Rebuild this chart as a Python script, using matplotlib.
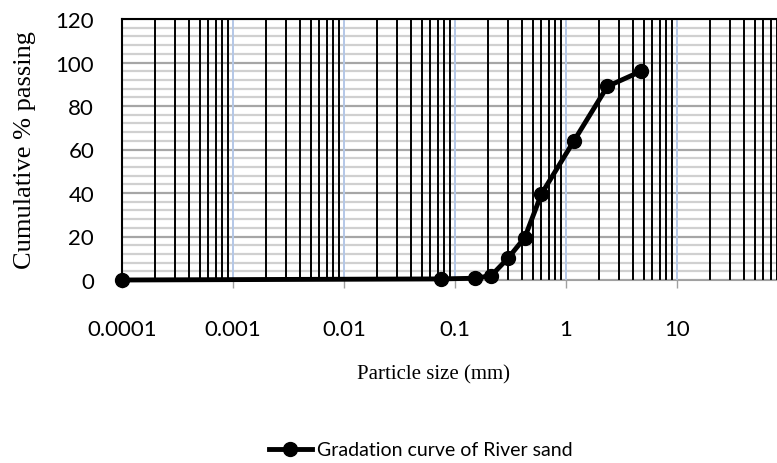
import matplotlib
matplotlib.use("Agg")
import matplotlib.pyplot as plt
from matplotlib.ticker import LogLocator, MultipleLocator, FixedLocator

# sieve sizes (mm) and cumulative % passing
size_mm = [0.0001, 0.075, 0.15, 0.212, 0.3, 0.425, 0.6, 1.18, 2.36, 4.75]
passing = [0, 0.5, 0.8, 2, 10, 19.5, 39.5, 64, 89, 96]

xtick_vals = [0.0001, 0.001, 0.01, 0.1, 1, 10]
xtick_labels = ["0.0001", "0.001", "0.01", "0.1", "1", "10"]
series_name = "Gradation curve of River sand"

tick_font = "Lato"
serif_font = "Liberation Serif"

fig = plt.figure(figsize=(7.77, 4.64), dpi=100)
# axes runs past the right edge like the cropped original
ax = fig.add_axes([122 / 777, 183 / 464, 666 / 777, 261 / 464])
ax.set_axisbelow(True)

ax.plot(size_mm, passing, color="black", lw=3.5, marker="o", ms=10,
        label=series_name, zorder=5, clip_on=False)

ax.set_xscale("log")
ax.set_xlim(0.0001, 100)
ax.set_ylim(0, 120)

ax.xaxis.set_major_locator(FixedLocator(xtick_vals))
ax.set_xticks(xtick_vals, xtick_labels)
ax.xaxis.set_minor_locator(LogLocator(base=10, subs=range(2, 10), numticks=20))
ax.yaxis.set_major_locator(MultipleLocator(20))
ax.yaxis.set_minor_locator(MultipleLocator(4))

# grid like the Excel sheet: black minor verticals, blue decades, gray horizontals
ax.yaxis.grid(True, which="minor", color="#d0d0d0", lw=1.6)
ax.yaxis.grid(True, which="major", color="#a6a6a6", lw=1.6)
ax.xaxis.grid(True, which="minor", color="black", lw=1.4)
ax.xaxis.grid(True, which="major", color="#b4c7e7", lw=1.4)
ax.yaxis.set_zorder(0.3)
ax.xaxis.set_zorder(0.5)

ax.tick_params(axis="x", which="major", length=6, width=1, color="#a0a0a0",
               pad=22, labelsize=16)
ax.tick_params(axis="y", which="major", length=0, pad=20, labelsize=16)
ax.tick_params(which="minor", length=0)
for lab in ax.get_xticklabels() + ax.get_yticklabels():
    lab.set_family(tick_font)

ax.spines["top"].set_color("black")
ax.spines["top"].set_linewidth(1.5)
ax.spines["left"].set_color("black")
ax.spines["left"].set_linewidth(1.5)
ax.spines["bottom"].set_color("#a0a0a0")
ax.spines["right"].set_visible(False)

ax.set_ylabel("Cumulative % passing", family=serif_font, fontsize=19, labelpad=14)
fig.text(434 / 777, 1 - 375 / 464, "Particle size (mm)", family=serif_font,
         fontsize=15, ha="center", va="center")

handles, labels = ax.get_legend_handles_labels()
fig.legend(handles, labels, loc="center", bbox_to_anchor=(421 / 777, 1 - 451 / 464),
           frameon=False, prop={"family": tick_font, "size": 14},
           handlelength=2.2, handletextpad=0.3)

fig.savefig("out.png", dpi=100)
